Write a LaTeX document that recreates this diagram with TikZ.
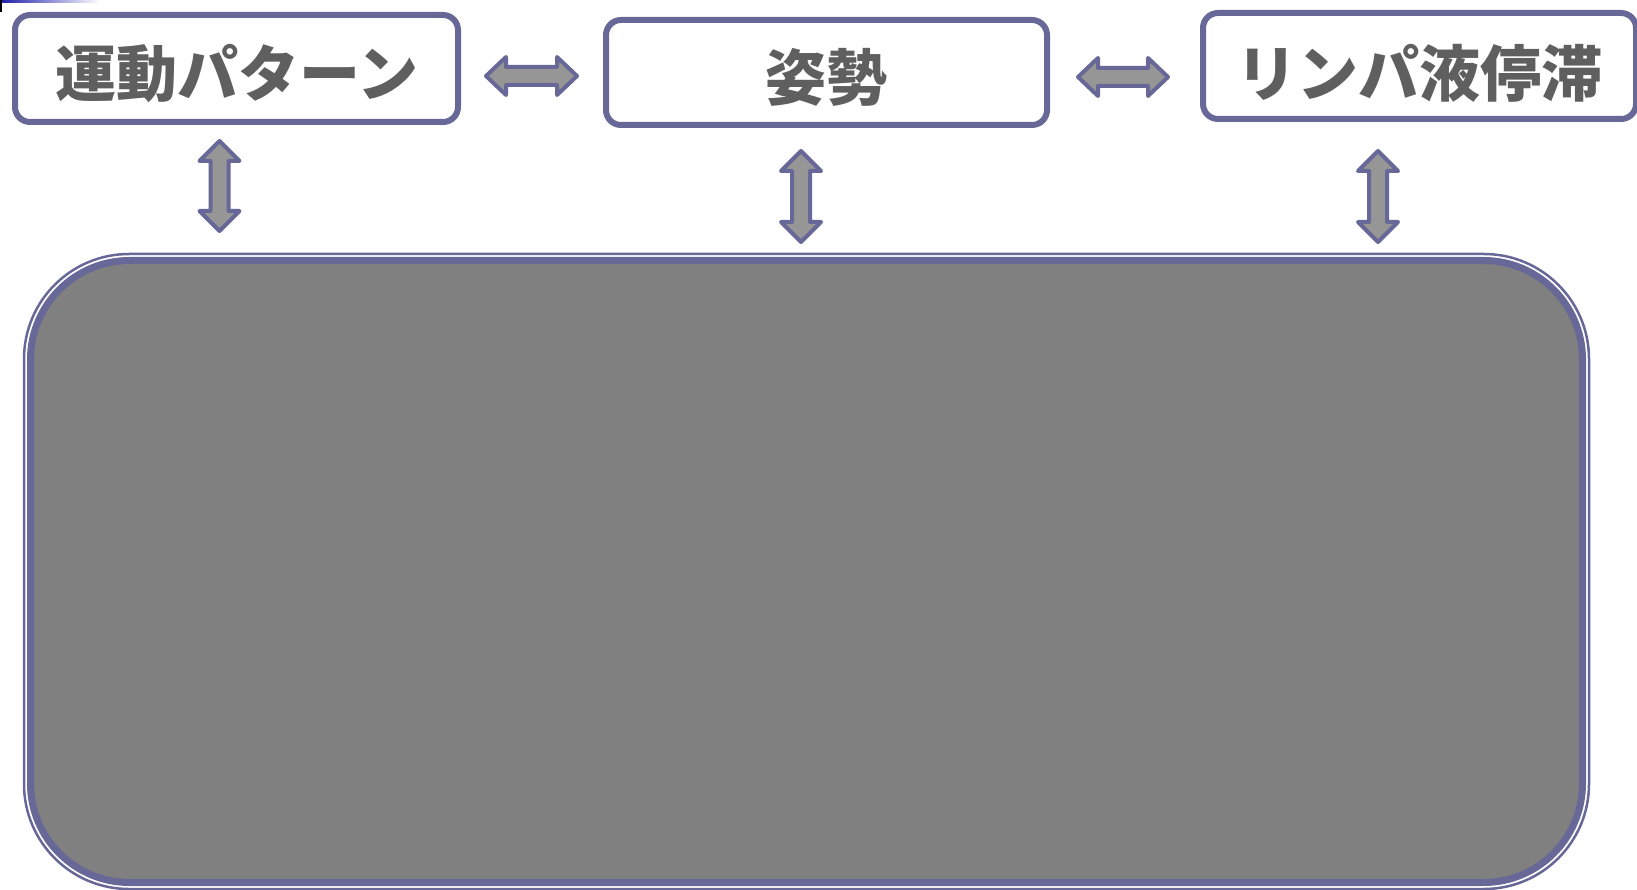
\documentclass[tikz,border=0pt]{standalone}
\usepackage{fontspec}
\newfontfamily\jp{Noto Sans CJK JP}
\definecolor{bord}{RGB}{104,104,152}
\definecolor{txtgray}{RGB}{95,95,95}
\definecolor{arrgray}{RGB}{150,150,150}
\definecolor{bigfill}{RGB}{128,128,128}
\definecolor{topblue}{RGB}{30,30,170}
\tikzset{
  topbox/.style={draw=bord, line width=6pt, rounded corners=15pt, fill=white, inner sep=0pt},
  boxtext/.style={inner sep=0pt, font=\jp\bfseries\fontsize{61}{63}\selectfont, text=txtgray},
  arr/.style={draw=bord, fill=arrgray, line width=4pt, line join=round},
}
\newcommand\harr[3]{\draw[arr] (#1,#3) -- ({#1+20},{#3-19}) -- ({#1+20},{#3-9}) -- ({#2-20},{#3-9}) -- ({#2-20},{#3-19}) -- (#2,#3) -- ({#2-20},{#3+19}) -- ({#2-20},{#3+9}) -- ({#1+20},{#3+9}) -- ({#1+20},{#3+19}) -- cycle;}
\newcommand\varr[3]{\draw[arr] (#1,#2) -- ({#1+20},{#2+20}) -- ({#1+9},{#2+20}) -- ({#1+9},{#3-20}) -- ({#1+20},{#3-20}) -- (#1,#3) -- ({#1-20},{#3-20}) -- ({#1-9},{#3-20}) -- ({#1-9},{#2+20}) -- ({#1-20},{#2+20}) -- cycle;}
\begin{document}
\begin{tikzpicture}[x=1pt,y=-1pt]
\useasboundingbox (0,0) rectangle (1637,890);
\fill[white] (0,0) rectangle (1637,890);
% top-left gradient strip
\shade[left color=topblue, right color=white] (0,0) rectangle (100,3);
\fill[black] (0,0) rectangle (1.5,12);
% big box
\draw[draw=bord, line width=2.5pt, fill=white, rounded corners=105pt] (24,254) rectangle (1589,889);
\draw[draw=bord, line width=7pt, fill=bigfill, rounded corners=99pt] (30.5,260.5) rectangle (1582.5,882.5);
% top boxes
\node[topbox, minimum width=443pt, minimum height=107pt] (motion) at (236.5,68.5) {};
\node[topbox, minimum width=441pt, minimum height=105pt] (posture) at (826.5,72.5) {};
\node[topbox, minimum width=433pt, minimum height=106pt] (lymph) at (1419.5,66) {};
\node[boxtext] (motiontext) at ([yshift=-5pt]motion.center) {運動パターン};
\node[boxtext] (posturetext) at ([yshift=-5pt]posture.center) {姿勢};
\node[boxtext] (lymphtext) at ([yshift=-7pt]lymph.center) {リンパ液停滞};
% arrows
\harr{486}{577}{76}
\harr{1078}{1168}{77}
\varr{219.5}{141}{231}
\varr{801}{151}{242}
\varr{1378}{151}{242}
\end{tikzpicture}
\end{document}
